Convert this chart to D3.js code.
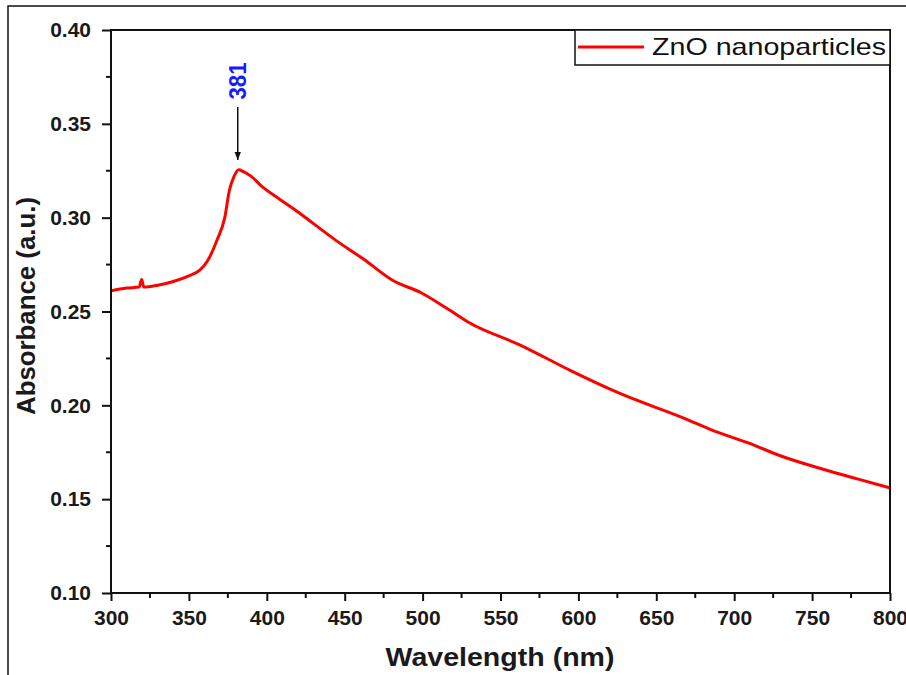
<!DOCTYPE html>
<html lang="en">
<head>
    <meta charset="UTF-8">
    <title>ZnO UV-Vis Absorbance</title>
    <script src="https://d3js.org/d3.v7.min.js"></script>
    <style>
        body { margin: 0; background: #fff; }
        svg { font-family: "Liberation Sans", Arial, sans-serif; }
        .tick-label { font-size: 21px; font-weight: bold; fill: #1a1a1a; }
        .axis-title { font-size: 26px; font-weight: bold; fill: #1a1a1a; }
    </style>
</head>
<body>
<svg width="906" height="675"></svg>
<script>
    // Spectrum (wavelength nm / absorbance a.u.)
    const wavelength = [300, 310, 318, 319.7, 321, 330, 340, 350, 357, 362, 368, 373, 376, 379, 382, 385, 390, 397, 408, 421, 430, 445, 462, 481, 499, 515, 530, 563, 595, 627, 668, 687, 709, 730, 756, 779, 800];
    const absorbance = [0.261, 0.2625, 0.263, 0.267, 0.263, 0.264, 0.266, 0.269, 0.272, 0.277, 0.288, 0.300, 0.3146, 0.322, 0.3255, 0.3245, 0.322, 0.3165, 0.310, 0.3025, 0.2968, 0.2875, 0.278, 0.2665, 0.260, 0.252, 0.244, 0.232, 0.2185, 0.2062, 0.1931, 0.1864, 0.180, 0.173, 0.1662, 0.1608, 0.156];
    const xTicks = [300, 350, 400, 450, 500, 550, 600, 650, 700, 750, 800];
    const yTicks = [0.10, 0.15, 0.20, 0.25, 0.30, 0.35, 0.40];
    const seriesName = "ZnO nanoparticles";
    const peakLabel = "381";
    const peakAt = 382;

    const svg = d3.select("svg");
    const m = {left: 111, top: 30, right: 890, bottom: 593};

    const x = d3.scaleLinear().domain([300, 800]).range([m.left, m.right]);
    const y = d3.scaleLinear().domain([0.10, 0.40]).range([m.bottom, m.top]);

    // outer frame of the figure
    svg.append("rect")
        .attr("x", 8).attr("y", 6).attr("width", 920).attr("height", 700)
        .attr("fill", "none").attr("stroke", "#111").attr("stroke-width", 1.5);

    // minor ticks
    const xMinor = d3.range(325, 800, 50);
    const yMinor = d3.range(0.125, 0.40, 0.05);

    svg.append("g").selectAll("line").data(xMinor).join("line")
        .attr("x1", d => x(d)).attr("x2", d => x(d))
        .attr("y1", m.bottom).attr("y2", m.bottom + 5)
        .attr("stroke", "#111").attr("stroke-width", 2);
    svg.append("g").selectAll("line").data(yMinor).join("line")
        .attr("y1", d => y(d)).attr("y2", d => y(d))
        .attr("x1", m.left).attr("x2", m.left - 5)
        .attr("stroke", "#111").attr("stroke-width", 2);

    // bottom axis
    const xAxis = svg.append("g")
        .attr("transform", `translate(0,${m.bottom})`)
        .call(d3.axisBottom(x).tickValues(xTicks).tickSize(8).tickPadding(9).tickFormat(d3.format("d")));
    xAxis.select(".domain").remove();
    xAxis.selectAll(".tick line").attr("stroke", "#111").attr("stroke-width", 2);
    xAxis.selectAll("text").attr("class", "tick-label").attr("font-size", null).attr("font-family", null);

    // left axis
    const yAxis = svg.append("g")
        .attr("transform", `translate(${m.left},0)`)
        .call(d3.axisLeft(y).tickValues(yTicks).tickSize(9).tickPadding(11).tickFormat(d3.format(".2f")));
    yAxis.select(".domain").remove();
    yAxis.selectAll(".tick line").attr("stroke", "#111").attr("stroke-width", 2);
    yAxis.selectAll("text").attr("class", "tick-label").attr("font-size", null).attr("font-family", null);

    // the curve
    const pts = wavelength.map((w, i) => [w, absorbance[i]]);
    svg.append("path")
        .datum(pts)
        .attr("fill", "none")
        .attr("stroke", "#ff0000")
        .attr("stroke-width", 3)
        .attr("stroke-linejoin", "round")
        .attr("d", d3.line().x(d => x(d[0])).y(d => y(d[1])).curve(d3.curveMonotoneX));

    // plot box
    svg.append("rect")
        .attr("x", m.left).attr("y", m.top)
        .attr("width", m.right - m.left).attr("height", m.bottom - m.top)
        .attr("fill", "none").attr("stroke", "#111").attr("stroke-width", 2);

    // peak annotation
    const px = x(peakAt) - 1;
    svg.append("defs").append("marker")
        .attr("id", "arrow").attr("viewBox", "0 0 10 10")
        .attr("refX", 10).attr("refY", 5)
        .attr("markerWidth", 5.5).attr("markerHeight", 5.5)
        .attr("orient", "auto")
        .append("path").attr("d", "M0,1L10,5L0,9Z").attr("fill", "#111");
    svg.append("line")
        .attr("x1", px).attr("x2", px)
        .attr("y1", 107).attr("y2", 160)
        .attr("stroke", "#111").attr("stroke-width", 1.5)
        .attr("marker-end", "url(#arrow)");
    svg.append("text")
        .attr("transform", `translate(${px + 8},${81}) rotate(-90)`)
        .attr("text-anchor", "middle")
        .attr("font-size", 24).attr("font-weight", "bold")
        .attr("textLength", 37).attr("lengthAdjust", "spacingAndGlyphs")
        .attr("fill", "#1a1aff")
        .text(peakLabel);

    // legend
    svg.append("rect")
        .attr("x", 575).attr("y", m.top)
        .attr("width", m.right - 575).attr("height", 35)
        .attr("fill", "#fff").attr("stroke", "#111").attr("stroke-width", 1.5);
    svg.append("line")
        .attr("x1", 578).attr("x2", 644).attr("y1", 47).attr("y2", 47)
        .attr("stroke", "#ff0000").attr("stroke-width", 3);
    svg.append("text")
        .attr("x", 652).attr("y", 55)
        .attr("font-size", 24).attr("fill", "#111")
        .attr("textLength", 234).attr("lengthAdjust", "spacingAndGlyphs")
        .text(seriesName);

    // axis titles
    svg.append("text").attr("class", "axis-title")
        .attr("x", 500).attr("y", 666)
        .attr("text-anchor", "middle")
        .attr("textLength", 229).attr("lengthAdjust", "spacingAndGlyphs")
        .text("Wavelength (nm)");
    svg.append("text").attr("class", "axis-title")
        .attr("transform", `translate(35,306) rotate(-90)`)
        .attr("text-anchor", "middle")
        .attr("textLength", 218).attr("lengthAdjust", "spacingAndGlyphs")
        .text("Absorbance (a.u.)");
</script>
</body>
</html>
